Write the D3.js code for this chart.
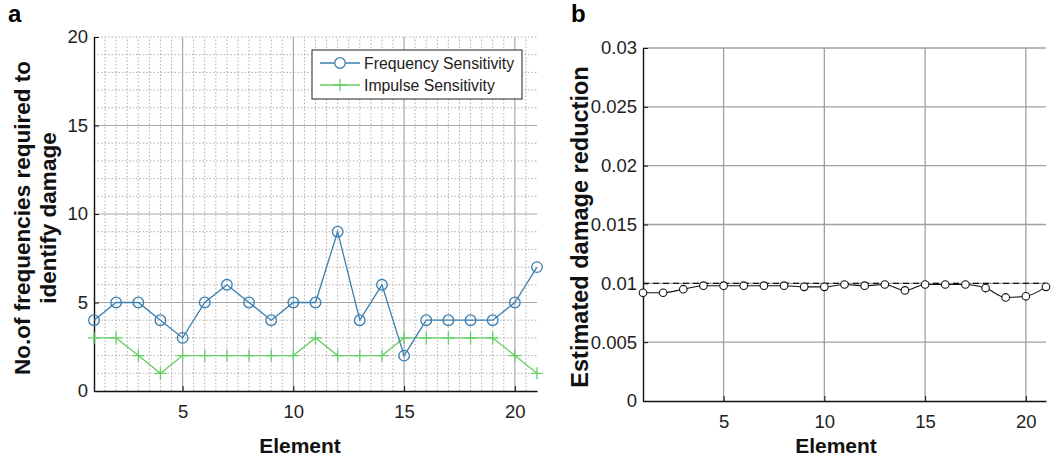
<!DOCTYPE html>
<head>
  <meta charset="utf-8">
  <script src="https://d3js.org/d3.v7.min.js"></script>
  <style>
    body { margin: 0; background: #fff; }
    * { font-family: "Liberation Sans", Arial, sans-serif; }
    .tick text { font-size: 18.5px; fill: #222; }
    .title { font-weight: bold; fill: #111; }
  </style>
</head>
<body>
  <div id="chart"></div>
  <script>
    // elements 1..21
    var elements = d3.range(1, 22)
    var freqSens = [4, 5, 5, 4, 3, 5, 6, 5, 4, 5, 5, 9, 4, 6, 2, 4, 4, 4, 4, 5, 7]
    var impulseSens = [3, 3, 2, 1, 2, 2, 2, 2, 2, 2, 3, 2, 2, 2, 3, 3, 3, 3, 3, 2, 1]
    var damageReduction = [0.0092, 0.0092, 0.0095, 0.0098, 0.0098, 0.0098, 0.0098, 0.0098, 0.0097, 0.0097,
                           0.0099, 0.0098, 0.0099, 0.0094, 0.0099, 0.0099, 0.0099, 0.0096, 0.0088, 0.0089, 0.0097]
    var trueDamage = 0.01
    var xTicks = [5, 10, 15, 20]
    var yTicksA = [0, 5, 10, 15, 20]
    var yTicksB = [0, 0.005, 0.01, 0.015, 0.02, 0.025, 0.03]
    var legendNames = ["Frequency Sensitivity", "Impulse Sensitivity"]

    var blue = "#3a7fb0", green = "#66cf66"

    var svg = d3.select("#chart").append("svg")
      .attr("width", 1054).attr("height", 462)

    // ---------- panel a ----------
    var xa = d3.scaleLinear().domain([1, 21]).range([94, 537])
    var ya = d3.scaleLinear().domain([0, 20]).range([391, 37])
    var ga = svg.append("g")

    // minor grid
    ga.selectAll(".minx").data(d3.range(1.5, 21, 0.5).filter(function(d) { return d % 5 != 0 }))
      .enter().append("line")
      .attr("x1", function(d) { return xa(d) }).attr("x2", function(d) { return xa(d) })
      .attr("y1", ya(0)).attr("y2", ya(20))
      .attr("stroke", "#9a9a9a").attr("stroke-width", 0.8).attr("stroke-dasharray", "1.5,2")
    ga.selectAll(".miny").data(d3.range(1, 21).filter(function(d) { return d % 5 != 0 || d == 20 }))
      .enter().append("line")
      .attr("x1", xa(1)).attr("x2", xa(21))
      .attr("y1", function(d) { return ya(d) }).attr("y2", function(d) { return ya(d) })
      .attr("stroke", "#9a9a9a").attr("stroke-width", 0.8).attr("stroke-dasharray", "1.5,2")
    // major grid
    ga.selectAll(".majx").data(xTicks).enter().append("line")
      .attr("x1", function(d) { return xa(d) }).attr("x2", function(d) { return xa(d) })
      .attr("y1", ya(0)).attr("y2", ya(20))
      .attr("stroke", "#a8a8a8").attr("stroke-width", 1.2)
    ga.selectAll(".majy").data([5, 10, 15]).enter().append("line")
      .attr("x1", xa(1)).attr("x2", xa(21))
      .attr("y1", function(d) { return ya(d) }).attr("y2", function(d) { return ya(d) })
      .attr("stroke", "#a8a8a8").attr("stroke-width", 1.2)

    ga.append("g").attr("transform", "translate(0," + ya(0) + ")")
      .call(d3.axisBottom(xa).tickValues(xTicks).tickSize(-5).tickSizeOuter(0).tickPadding(14))
      .call(styleAxis)
    ga.append("g").attr("transform", "translate(" + xa(1) + ",0)")
      .call(d3.axisLeft(ya).tickValues(yTicksA).tickSize(-5).tickSizeOuter(0).tickPadding(6))
      .call(styleAxis)

    var lineA = d3.line().x(function(d, i) { return xa(elements[i]) }).y(function(d) { return ya(d) })
    ga.append("path").datum(impulseSens).attr("d", lineA)
      .attr("fill", "none").attr("stroke", green).attr("stroke-width", 1.3)
    ga.selectAll(".plus").data(impulseSens).enter().append("path")
      .attr("d", function(d, i) {
        var x = xa(elements[i]), y = ya(d)
        return "M" + (x - 6) + "," + y + "H" + (x + 6) + "M" + x + "," + (y - 6) + "V" + (y + 6)
      })
      .attr("stroke", green).attr("stroke-width", 1.3)
    ga.append("path").datum(freqSens).attr("d", lineA)
      .attr("fill", "none").attr("stroke", blue).attr("stroke-width", 1.3)
    ga.selectAll(".circ").data(freqSens).enter().append("circle")
      .attr("cx", function(d, i) { return xa(elements[i]) })
      .attr("cy", function(d) { return ya(d) })
      .attr("r", 5.3).attr("fill", "none").attr("stroke", blue).attr("stroke-width", 1.3)

    // legend
    var lg = ga.append("g").attr("transform", "translate(312,50)")
    lg.append("rect").attr("width", 210).attr("height", 49)
      .attr("fill", "#fff").attr("stroke", "#222").attr("stroke-width", 1)
    legendNames.forEach(function(name, i) {
      var y = 13 + i * 22
      var c = i == 0 ? blue : green
      lg.append("line").attr("x1", 8).attr("x2", 48).attr("y1", y).attr("y2", y)
        .attr("stroke", c).attr("stroke-width", 1.3)
      if (i == 0) {
        lg.append("circle").attr("cx", 28).attr("cy", y).attr("r", 5.3)
          .attr("fill", "#fff").attr("stroke", c).attr("stroke-width", 1.3)
      } else {
        lg.append("path").attr("d", "M22," + y + "H34M28," + (y - 6) + "V" + (y + 6))
          .attr("stroke", c).attr("stroke-width", 1.3)
      }
      lg.append("text").attr("x", 52).attr("y", y + 5.5).attr("font-size", 15.8)
        .attr("fill", "#222").text(name)
    })

    ga.append("text").attr("class", "title").attr("font-size", 21).attr("x", 300).attr("y", 453)
      .attr("text-anchor", "middle").text("Element")
    var yt = ga.append("text").attr("class", "title").attr("font-size", 22.5).attr("text-anchor", "middle")
      .attr("transform", "translate(30,218) rotate(-90)")
    yt.append("tspan").attr("x", 0).attr("y", 0).text("No.of frequencies required to")
    yt.append("tspan").attr("x", 0).attr("y", 26).text("identify damage")
    svg.append("text").attr("x", 8).attr("y", 22).attr("font-size", 24)
      .attr("font-weight", "bold").text("a")

    // ---------- panel b ----------
    var xb = d3.scaleLinear().domain([1, 21]).range([643, 1046])
    var yb = d3.scaleLinear().domain([0, 0.03]).range([401, 48])
    var gb = svg.append("g")

    gb.selectAll(".majx").data(xTicks).enter().append("line")
      .attr("x1", function(d) { return xb(d) }).attr("x2", function(d) { return xb(d) })
      .attr("y1", yb(0)).attr("y2", yb(0.03))
      .attr("stroke", "#a0a0a0").attr("stroke-width", 1.3)
    gb.selectAll(".majy").data(yTicksB.slice(1)).enter().append("line")
      .attr("x1", xb(1)).attr("x2", xb(21))
      .attr("y1", function(d) { return yb(d) }).attr("y2", function(d) { return yb(d) })
      .attr("stroke", "#a0a0a0").attr("stroke-width", 1.3)

    gb.append("g").attr("transform", "translate(0," + yb(0) + ")")
      .call(d3.axisBottom(xb).tickValues(xTicks).tickSize(-5).tickSizeOuter(0).tickPadding(14))
      .call(styleAxis)
    gb.append("g").attr("transform", "translate(" + xb(1) + ",0)")
      .call(d3.axisLeft(yb).tickValues(yTicksB).tickSize(-5).tickSizeOuter(0).tickPadding(6)
        .tickFormat(function(d) { return d3.format("~g")(+d.toFixed(4)) }))
      .call(styleAxis)

    gb.append("line").attr("x1", xb(1)).attr("x2", xb(21))
      .attr("y1", yb(trueDamage)).attr("y2", yb(trueDamage))
      .attr("stroke", "#111").attr("stroke-width", 1.1).attr("stroke-dasharray", "6,4")
    var lineB = d3.line().curve(d3.curveMonotoneX)
      .x(function(d, i) { return xb(elements[i]) }).y(function(d) { return yb(d) })
    gb.append("path").datum(damageReduction).attr("d", lineB)
      .attr("fill", "none").attr("stroke", "#111").attr("stroke-width", 1.1)
    gb.selectAll(".circ").data(damageReduction).enter().append("circle")
      .attr("cx", function(d, i) { return xb(elements[i]) })
      .attr("cy", function(d) { return yb(d) })
      .attr("r", 3.8).attr("fill", "#fff").attr("stroke", "#111").attr("stroke-width", 1.1)

    gb.append("text").attr("class", "title").attr("font-size", 21).attr("x", 836).attr("y", 453)
      .attr("text-anchor", "middle").text("Element")
    gb.append("text").attr("class", "title").attr("font-size", 23.5).attr("text-anchor", "middle")
      .attr("transform", "translate(588,227) rotate(-90)").text("Estimated damage reduction")
    svg.append("text").attr("x", 571).attr("y", 22).attr("font-size", 24)
      .attr("font-weight", "bold").text("b")

    function styleAxis(g) {
      g.select(".domain").attr("stroke", "#111").attr("stroke-width", 1.4)
      g.selectAll(".tick line").attr("stroke", "#111")
    }
  </script>
</body>
